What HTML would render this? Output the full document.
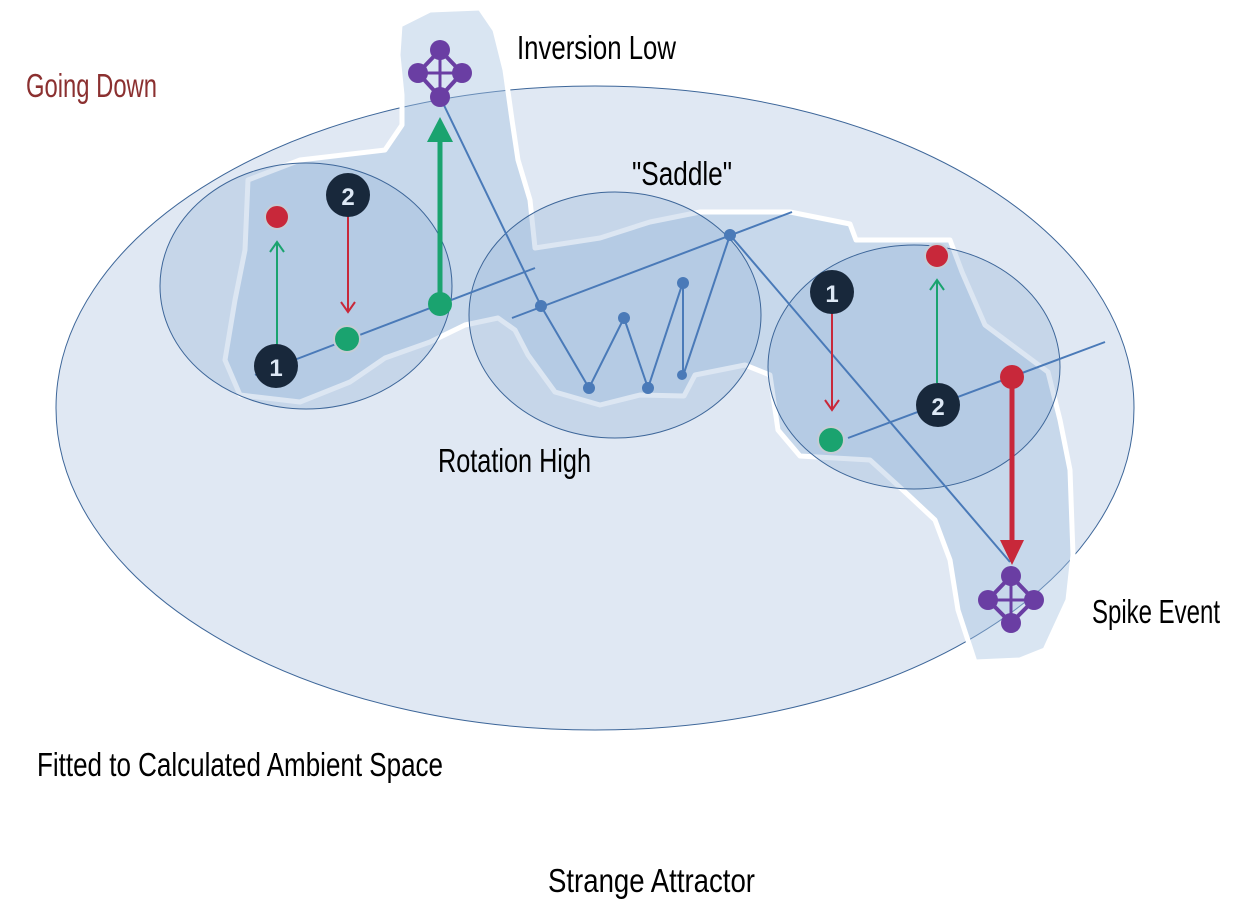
<!DOCTYPE html>
<html><head><meta charset="utf-8"><style>
html,body{margin:0;padding:0;background:#fff;}
svg{display:block;}
text{font-family:"Liberation Sans Narrow","Liberation Sans",sans-serif;}
</style></head><body>
<svg width="1243" height="908" viewBox="0 0 1243 908" xmlns="http://www.w3.org/2000/svg">
<ellipse cx="595" cy="408" rx="539" ry="322" fill="#e0e8f3" stroke="#3d6699" stroke-width="1"/>
<path d="M430,10 L480,8 L495,30 L505,70 L512,120 L518,160 L530,200 L535,248 L600,238 L650,222 L700,212 L790,212 L850,224 L856,240 L950,240 L962,272 L985,325 L1048,372 L1060,420 L1070,470 L1073,555 L1068,600 L1045,650 L1020,660 L975,662 L958,610 L950,560 L935,520 L905,492 L870,460 L800,456 L778,430 L770,375 L745,365 L695,375 L684,396 L640,395 L600,405 L555,392 L528,355 L515,330 L498,318 L465,325 L430,342 L385,358 L350,382 L300,402 L240,395 L225,360 L235,300 L245,250 L248,180 L300,160 L385,150 L402,125 L402,95 L398,55 L400,25 Z" fill="rgba(165,192,224,0.42)" stroke="#fff" stroke-width="5" stroke-linejoin="round"/>
<ellipse cx="306" cy="286" rx="146" ry="123" fill="rgba(140,172,212,0.3)" stroke="#3d6699" stroke-width="1"/>
<ellipse cx="615" cy="315" rx="146" ry="123" fill="rgba(140,172,212,0.3)" stroke="#3d6699" stroke-width="1"/>
<ellipse cx="914" cy="367" rx="146" ry="122" fill="rgba(140,172,212,0.3)" stroke="#3d6699" stroke-width="1"/>
<g stroke="#4a7ab8" stroke-width="2" fill="none">
<line x1="255" y1="375" x2="535" y2="268"/>
<line x1="512" y1="318" x2="792" y2="212"/>
<line x1="848" y1="438" x2="1105" y2="342"/>
<polyline points="440,97 541,306 589,388 624,318 648,388 683,282 683,376 730,235 1010,562"/>
</g>
<g fill="#4a7ab8">
<circle cx="541" cy="306" r="6"/><circle cx="589" cy="388" r="6"/><circle cx="624" cy="318" r="6"/>
<circle cx="648" cy="388" r="6"/><circle cx="683" cy="283" r="6"/><circle cx="682" cy="375" r="5"/><circle cx="730" cy="235" r="6"/>
</g>
<!-- left cluster -->
<line x1="277" y1="345" x2="277" y2="243" stroke="#1aa36f" stroke-width="2"/>
<polyline points="270,252 277,242 284,252" fill="none" stroke="#1aa36f" stroke-width="2"/>
<line x1="348" y1="215" x2="348" y2="312" stroke="#c8283a" stroke-width="2"/>
<polyline points="341,302 348,312 355,302" fill="none" stroke="#c8283a" stroke-width="2"/>
<line x1="440" y1="295" x2="440" y2="140" stroke="#1aa36f" stroke-width="5"/>
<polygon points="427,142 453,142 440,117" fill="#1aa36f"/>
<circle cx="277" cy="217" r="12" fill="#c8283a" stroke="#c4ccd6" stroke-width="2"/>
<circle cx="347" cy="339" r="13" fill="#1aa36f" stroke="#c4ccd6" stroke-width="2"/>
<circle cx="440" cy="304" r="12" fill="#1aa36f"/>
<circle cx="348" cy="195" r="22" fill="#18283b"/>
<text x="348" y="205" font-size="24" font-weight="bold" fill="#dde8f5" text-anchor="middle">2</text>
<circle cx="276" cy="366" r="22" fill="#18283b"/>
<text x="276" y="376" font-size="24" font-weight="bold" fill="#dde8f5" text-anchor="middle">1</text>
<!-- right cluster -->
<line x1="832" y1="312" x2="832" y2="410" stroke="#c8283a" stroke-width="2"/>
<polyline points="825,400 832,410 839,400" fill="none" stroke="#c8283a" stroke-width="2"/>
<line x1="937" y1="383" x2="937" y2="280" stroke="#1aa36f" stroke-width="2"/>
<polyline points="930,290 937,280 944,290" fill="none" stroke="#1aa36f" stroke-width="2"/>
<line x1="1012" y1="380" x2="1012" y2="545" stroke="#c8283a" stroke-width="5"/>
<polygon points="1000,540 1024,540 1012,565" fill="#c8283a"/>
<circle cx="937" cy="256" r="12" fill="#c8283a" stroke="#c4ccd6" stroke-width="2"/>
<circle cx="831" cy="440" r="13" fill="#1aa36f" stroke="#c4ccd6" stroke-width="2"/>
<circle cx="1012" cy="377" r="12" fill="#c8283a"/>
<circle cx="832" cy="292" r="22" fill="#18283b"/>
<text x="832" y="302" font-size="24" font-weight="bold" fill="#dde8f5" text-anchor="middle">1</text>
<circle cx="938" cy="405" r="22" fill="#18283b"/>
<text x="938" y="415" font-size="24" font-weight="bold" fill="#dde8f5" text-anchor="middle">2</text>
<!-- purple icons -->
<g id="ic1" fill="#6a3ea3" stroke="#6a3ea3">
<polygon points="440,50 462,73 440,97 418,73" fill="none" stroke-width="4"/>
<line x1="440" y1="50" x2="440" y2="97" stroke-width="3"/><line x1="418" y1="73" x2="462" y2="73" stroke-width="3"/>
<circle cx="440" cy="50" r="10" stroke="none"/><circle cx="418" cy="73" r="10" stroke="none"/>
<circle cx="462" cy="73" r="10" stroke="none"/><circle cx="440" cy="97" r="10" stroke="none"/>
</g>
<g fill="#6a3ea3" stroke="#6a3ea3">
<polygon points="1011,576 1034,600 1011,623 988,600" fill="none" stroke-width="4"/>
<line x1="1011" y1="576" x2="1011" y2="623" stroke-width="3"/><line x1="988" y1="600" x2="1034" y2="600" stroke-width="3"/>
<circle cx="1011" cy="576" r="10" stroke="none"/><circle cx="988" cy="600" r="10" stroke="none"/>
<circle cx="1034" cy="600" r="10" stroke="none"/><circle cx="1011" cy="623" r="10" stroke="none"/>
</g>
<!-- labels -->
<text x="26" y="97" font-size="33" fill="#8b3030" textLength="131" lengthAdjust="spacingAndGlyphs">Going Down</text>
<text x="517" y="59" font-size="33" fill="#000" textLength="159" lengthAdjust="spacingAndGlyphs">Inversion Low</text>
<text x="632" y="185" font-size="33" fill="#000" textLength="100" lengthAdjust="spacingAndGlyphs">"Saddle"</text>
<text x="438" y="472" font-size="33" fill="#000" textLength="153" lengthAdjust="spacingAndGlyphs">Rotation High</text>
<text x="1092" y="623" font-size="33" fill="#000" textLength="128" lengthAdjust="spacingAndGlyphs">Spike Event</text>
<text x="37" y="776" font-size="33" fill="#000" textLength="406" lengthAdjust="spacingAndGlyphs">Fitted to Calculated Ambient Space</text>
<text x="548" y="892" font-size="33" fill="#000" textLength="207" lengthAdjust="spacingAndGlyphs">Strange Attractor</text>
</svg>
</body></html>
